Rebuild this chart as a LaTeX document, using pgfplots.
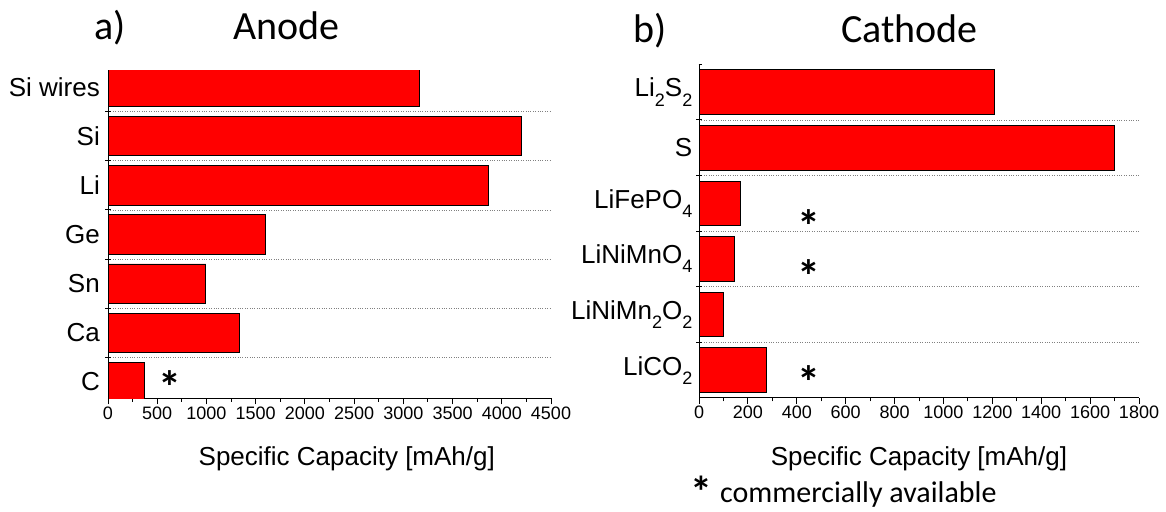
\documentclass[border=0pt]{standalone}
\usepackage{pgfplots}
\pgfplotsset{compat=1.18}
\usepackage{pgfplotstable}
\usepackage{fontspec}
\setmainfont{Liberation Sans}
\newfontfamily\calibri{Carlito}
\newcommand{\sub}[1]{\raisebox{-0.35em}{\fontsize{18}{18}\selectfont #1}}
\definecolor{barred}{RGB}{255,0,0}

% specific capacities [mAh/g]
\pgfplotstableread{
pos cap
0 372
1 1340
2 994
3 1600
4 3860
5 4200
6 3160
}\anode
\pgfplotstableread{
pos cap
0 274
1 100
2 147
3 170
4 1700
5 1210
}\cathode

\pgfplotsset{
  capbar/.style={
    scale only axis,
    anchor=south west,
    xbar, bar width=0.8,
    enlargelimits=false,
    clip=true,
    axis x line*=bottom,
    axis y line*=left,
    axis line style={line width=1pt, black},
    tick align=outside,
    tick style={black, line width=0.9pt},
    major tick length=6pt,
    minor tick length=3.5pt,
    minor x tick num=1,
    scaled ticks=false,
    /pgf/number format/1000 sep={},
    /pgf/number format/assume math mode=true,
    xticklabel style={font=\fontsize{18}{18}\selectfont, inner sep=2pt},
    yticklabel style={font=\fontsize{26}{26}\selectfont, inner sep=0pt},
    ytick style={xshift=3pt},
    yticklabels={},
    ymajorgrids=true,
    major grid style={gray, line width=0.7pt, dash pattern=on 0.8pt off 1.6pt},
    xlabel style={font=\fontsize{26}{26}\selectfont, anchor=base},
  },
  redbar/.style={fill=barred, draw=black, line width=0.9pt},
}
\tikzset{
  asterisk/.style={font=\calibri\bfseries\fontsize{46}{46}\selectfont, anchor=base, inner sep=0pt, yshift=-22pt},
  title/.style={anchor=base west, inner sep=0pt, font=\calibri\fontsize{40}{40}\selectfont},
}

\begin{document}
\begin{tikzpicture}
\path[use as bounding box] (0,0) rectangle (1166pt,511pt);

% ---------------- a) Anode ----------------
\begin{axis}[capbar,
  at={(108pt,112.7pt)}, width=443pt, height=327.6pt,
  xmin=0, xmax=4500, ymin=-0.335, ymax=6.335,
  xtick={0,500,...,4500},
  ytick={0.5,1.5,...,5.5},
  extra y ticks={0,1,...,6},
  extra y tick labels={C,Ca,Sn,Ge,Li,Si,Si wires},
  extra y tick style={grid=none, major tick length=0pt, yticklabel style={xshift=-8pt}},
  xlabel={Specific Capacity [mAh/g]},
  xlabel style={at={(axis description cs:0.539,0)}, yshift=-67pt},
]
\addplot[redbar] table[x=cap, y=pos] {\anode};
\node[asterisk] at (axis cs:627,0) {\smash{*}};
\end{axis}

% ---------------- b) Cathode ----------------
\begin{axis}[capbar,
  at={(699pt,113pt)}, width=440pt, height=333.7pt,
  xmin=0, xmax=1800, ymin=-0.5, ymax=5.5,
  xtick={0,200,...,1800},
  ytick={0.5,1.5,...,4.5},
  minor ytick={5.5},
  extra y ticks={0,1,...,5},
  extra y tick labels={{LiCO\sub{2}},{LiNiMn\sub{2}O\sub{2}},{LiNiMnO\sub{4}},{LiFePO\sub{4}},{S\hspace{12pt}},{Li\sub{2}S\sub{2}}},
  extra y tick style={grid=none, major tick length=2.5pt, yticklabel style={xshift=-4pt}},
  xlabel={Specific Capacity [mAh/g]},
  xlabel style={at={(axis description cs:0.5,0)}, yshift=-67pt},
]
\addplot[redbar] table[x=cap, y=pos] {\cathode};
\node[asterisk] at (axis cs:450,2.70) {\smash{*}};
\node[asterisk] at (axis cs:450,1.79) {\smash{*}};
\node[asterisk] at (axis cs:450,-0.12) {\smash{*}};
\end{axis}

% panel titles and footnote
\node[title] at (94pt,471pt) {a)};
\node[title] at (233pt,471pt) {Anode};
\node[title] at (633pt,468pt) {b)};
\node[title] at (841pt,468pt) {Cathode};
\node[anchor=base west, inner sep=0pt, font=\calibri\bfseries\fontsize{44}{44}\selectfont] at (690pt,4pt) {\smash{*}};
\node[anchor=base west, inner sep=0pt, font=\calibri\fontsize{30}{30}\selectfont] at (720pt,9pt) {commercially available};
\end{tikzpicture}
\end{document}
